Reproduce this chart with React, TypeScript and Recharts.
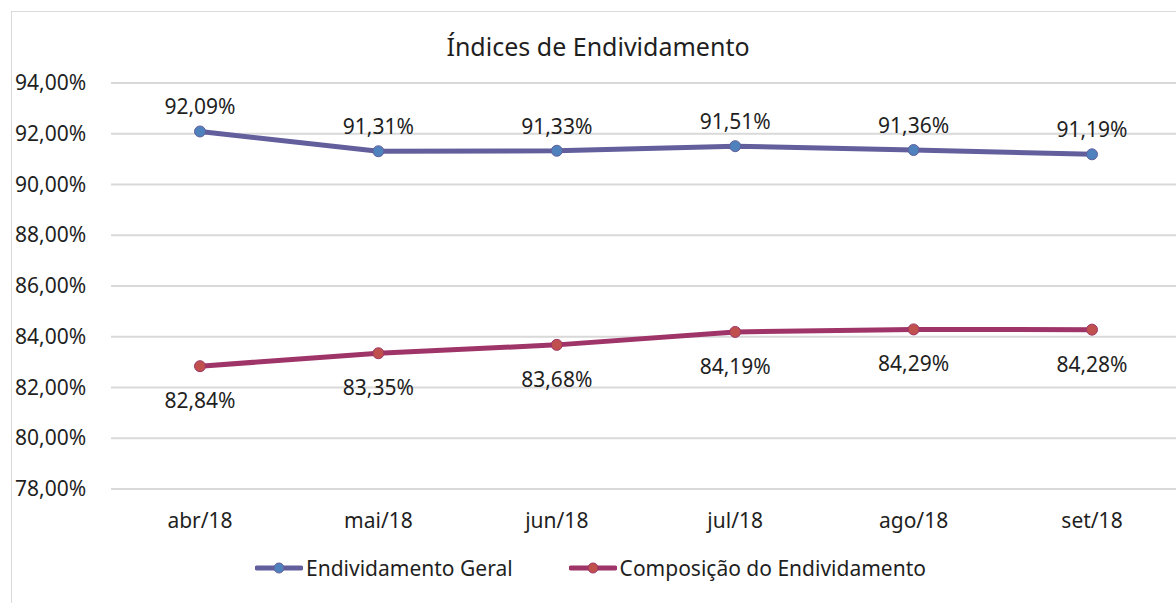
import React from "react";
import { LineChart, Line, XAxis, YAxis, CartesianGrid, Legend, LabelList } from "recharts";

const categories = ["abr/18", "mai/18", "jun/18", "jul/18", "ago/18", "set/18"];
const endividamentoGeral = [92.09, 91.31, 91.33, 91.51, 91.36, 91.19];
const composicao = [82.84, 83.35, 83.68, 84.19, 84.29, 84.28];
const yTicks = [78, 80, 82, 84, 86, 88, 90, 92, 94];
const seriesNames = ["Endividamento Geral", "Composição do Endividamento"];

const data = categories.map((c, i) => ({ name: c, geral: endividamentoGeral[i], comp: composicao[i] }));

const FONT = "'Noto Sans', sans-serif";
const TXT = "#1f1f1f";
const fmt = (v: number) => v.toFixed(2).replace(".", ",") + "%";

const BLUE_LINE = "#625F9C";
const BLUE_DOT = "#4F81BD";
const RED_LINE = "#9E3467";
const RED_DOT = "#C0504D";

const YTick = (props: any) => {
  const { y, payload } = props;
  return (
    <text x={15} y={y} dy={7} textAnchor="start" fontFamily={FONT} fontSize={21} fill={TXT}>
      {fmt(payload.value)}
    </text>
  );
};

const XTick = (props: any) => {
  const { x, y, payload } = props;
  return (
    <text x={x} y={y} dy={31} textAnchor="middle" fontFamily={FONT} fontSize={21} fill={TXT}>
      {payload.value}
    </text>
  );
};

const LegendContent = () => {
  const items = [
    { name: seriesNames[0], line: BLUE_LINE, dot: BLUE_DOT },
    { name: seriesNames[1], line: RED_LINE, dot: RED_DOT },
  ];
  return (
    <div style={{ display: "flex", justifyContent: "center", alignItems: "center", height: 40, fontFamily: FONT, fontSize: 21, color: TXT, paddingLeft: 0 }}>
      {items.map((it, i) => (
        <div key={i} style={{ display: "flex", alignItems: "center", marginLeft: i ? 56 : 0 }}>
          <svg width={48} height={14} style={{ marginRight: 3 }}>
            <line x1={2} y1={7} x2={46} y2={7} stroke={it.line} strokeWidth={5} strokeLinecap="round" />
            <circle cx={24} cy={7} r={5} fill={it.dot} stroke={it.line} strokeWidth={1} />
          </svg>
          <span>{it.name}</span>
        </div>
      ))}
    </div>
  );
};

export default function App() {
  return (
    <div style={{ position: "absolute", left: 0, top: 0, width: 1176, height: 603, overflow: "hidden", background: "#fff" }}>
      <div style={{ position: "absolute", left: 11, top: 11, width: 1200, height: 640, border: "1px solid #D9D9D9" }} />
      <div style={{ position: "absolute", left: 0, top: 29, width: 1176, textAlign: "center", fontFamily: FONT, fontSize: 25, color: TXT, paddingLeft: 10 }}>
        Índices de Endividamento
      </div>
      <div style={{ position: "absolute", left: 0, top: 0 }}>
        <LineChart width={1190} height={603} data={data} margin={{ top: 83, right: 9, bottom: 15, left: 0 }}>
          <CartesianGrid vertical={false} stroke="#D9D9D9" strokeWidth={2} />
          <XAxis dataKey="name" axisLine={false} tickLine={false} height={59} tick={<XTick />} interval={0} padding={{ left: 89, right: 89 }} />
          <YAxis domain={[78, 94]} ticks={yTicks} width={111} axisLine={false} tickLine={false} tick={<YTick />} />
          <Legend verticalAlign="bottom" content={<LegendContent />} wrapperStyle={{ height: 40 }} />
          <Line dataKey="geral" name={seriesNames[0]} stroke={BLUE_LINE} strokeWidth={5} isAnimationActive={false}
            dot={{ r: 5.5, fill: BLUE_DOT, stroke: BLUE_LINE, strokeWidth: 1 }}>
            <LabelList dataKey="geral" position="top" offset={17} formatter={(v: any) => fmt(v)} style={{ fontFamily: FONT, fontSize: 21, fill: TXT }} />
          </Line>
          <Line dataKey="comp" name={seriesNames[1]} stroke={RED_LINE} strokeWidth={5} isAnimationActive={false}
            dot={{ r: 5.5, fill: RED_DOT, stroke: RED_LINE, strokeWidth: 1 }}>
            <LabelList dataKey="comp" position="bottom" offset={27} formatter={(v: any) => fmt(v)} style={{ fontFamily: FONT, fontSize: 21, fill: TXT }} />
          </Line>
        </LineChart>
      </div>
    </div>
  );
}
